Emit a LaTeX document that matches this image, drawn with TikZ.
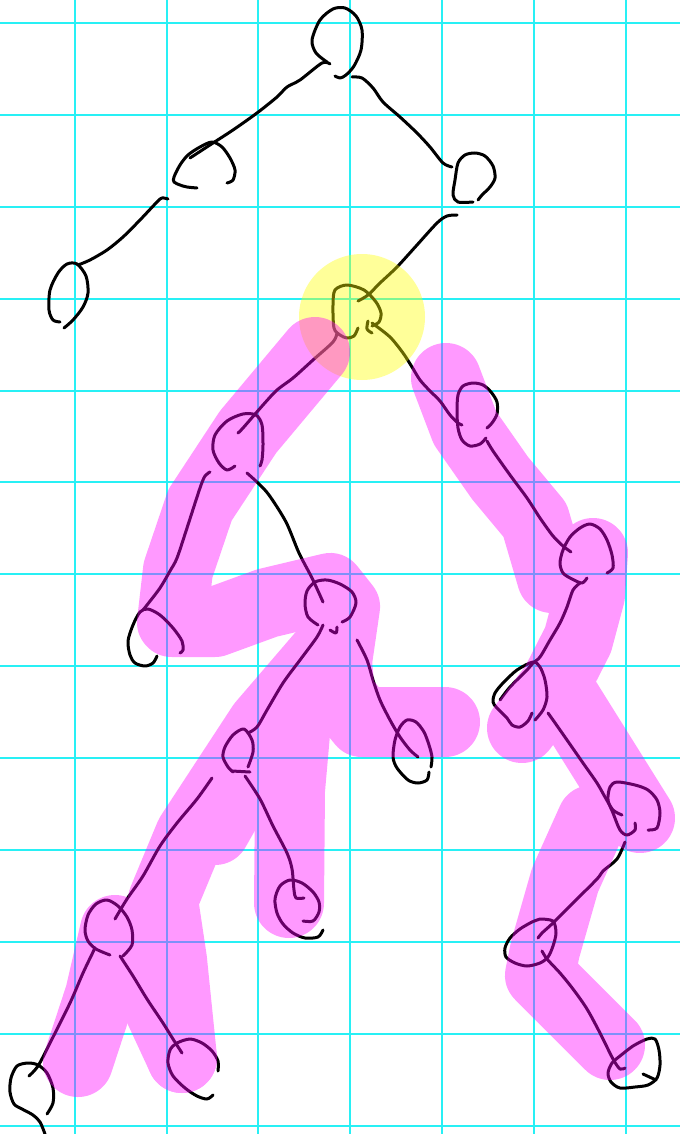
\documentclass[tikz,border=0pt]{standalone}
\definecolor{gridcyan}{RGB}{40,240,245}
\definecolor{hlpink}{RGB}{255,0,255}
\definecolor{hlyellow}{RGB}{255,255,0}
\begin{document}
\begin{tikzpicture}[x=1pt,y=-1pt,
  ink/.style={line width=3pt, line cap=round, line join=round, draw=black},
  hl/.style={line width=70pt, line cap=round, line join=round, draw=hlpink},
  gridline/.style={draw=gridcyan, line width=2pt}]
\useasboundingbox (0,0) rectangle (680,1134);
\fill[white] (0,0) rectangle (680,1134);
% grid
\foreach \i in {0,...,6} \draw[gridline] ({74.6+91.9*\i},0) -- ({74.6+91.9*\i},1134);
\foreach \j in {0,...,12} \draw[gridline] (0,{22.7+91.95*\j}) -- (680,{22.7+91.95*\j});

% ---------- ink (tree) ----------
% root
\draw[ink] plot[smooth] coordinates {(327,62) (316,53) (312,40) (320,20) (333,9) (345,8) (356,16) (362,30) (361,50) (354,66) (346,75) (340,78) (335,76)};
\draw[ink] plot[smooth] coordinates {(330,64) (322,63) (300,80) (287,87) (277,97) (257,113) (233,130) (213,143) (190,158)};
\draw[ink] plot[smooth] coordinates {(227,183) (233,180) (235,170) (230,158) (222,147) (212,142) (200,147) (188,155) (180,165) (174,177) (174,182) (180,185) (187,187) (197,188)};
\draw[ink] plot[smooth] coordinates {(168,199) (162,198) (157,202) (140,220) (123,237) (107,250) (90,260) (78,265)};
\draw[ink] plot[smooth] coordinates {(60,322) (53,320) (49,310) (50,290) (58,273) (67,264) (77,264) (86,276) (88,293) (83,307) (73,320) (64,328)};
\draw[ink] plot[smooth] coordinates {(352,77) (362,78) (373,88) (383,102) (400,117) (417,133) (430,147) (443,163) (452,167)};
\draw[ink] plot[smooth] coordinates {(473,202) (458,202) (453,195) (455,180) (458,163) (465,155) (475,153) (485,156) (493,166) (495,178) (490,187) (482,195) (478,200)};
\draw[ink] plot[smooth] coordinates {(457,215) (447,216) (437,223) (417,245) (397,267) (380,283) (368,295) (358,301)};
% yellow-marked node
\draw[ink] plot[smooth] coordinates {(358,328) (354,336) (347,338) (340,335) (334,328) (333,305) (335,290) (347,285) (364,290) (376,302) (381,313) (379,322) (372,326)};
\draw[ink] plot[smooth] coordinates {(368,321) (367,329) (372,333)};
\draw[ink] plot[smooth] coordinates {(337,333) (333,342) (313,360) (293,378) (277,390) (263,405) (243,428) (238,433)};
\draw[ink] plot[smooth] coordinates {(372,323) (390,337) (403,353) (412,367) (420,380) (430,391) (440,401) (450,415) (458,423) (462,425)};
% left subtree
\draw[ink] plot[smooth] coordinates {(235,466) (227,470) (219,463) (213,450) (215,435) (227,421) (243,414) (256,415) (262,425) (263,445) (262,460) (260,466)};
\draw[ink] plot[smooth] coordinates {(210,472) (205,476) (200,488) (187,528) (177,558) (170,571) (160,588) (147,605) (143,610)};
\draw[ink] plot[smooth] coordinates {(180,653) (183,650) (182,641) (173,628) (160,615) (148,609) (140,612) (133,625) (128,641) (130,655) (135,663) (145,666) (153,663) (157,656)};
\draw[ink] plot[smooth] coordinates {(247,473) (258,483) (269,495) (286,522) (299,553) (312,578) (323,602)};
\draw[ink] plot[smooth] coordinates {(342,622) (350,617) (356,603) (352,592) (340,584) (327,580) (315,582) (307,591) (305,604) (308,617) (318,625)};
\draw[ink] plot[smooth] coordinates {(330,630) (336,633) (337,627)};
\draw[ink] plot[smooth] coordinates {(323,625) (317,637) (300,660) (283,683) (267,710) (257,727) (248,733)};
\draw[ink] plot[smooth] coordinates {(248,767) (253,752) (252,740) (244,729) (233,735) (225,747) (223,757) (228,767) (233,772)};
\draw[ink] (232,771) -- (250,772);
\draw[ink] plot[smooth] coordinates {(212,778) (197,799) (177,823) (160,846) (143,876) (127,899) (115,919)};
\draw[ink] plot[smooth] coordinates {(123,956) (132,945) (132,930) (127,917) (118,906) (107,900) (96,904) (88,915) (85,930) (88,941) (96,949) (110,955)};
\draw[ink] plot[smooth] coordinates {(95,948) (83,973) (70,1003) (50,1043) (38,1066) (29,1076)};
\draw[ink] plot[smooth] coordinates {(47,1114) (53,1103) (53,1088) (47,1073) (38,1065) (28,1063) (17,1066) (11,1078) (10,1092) (14,1104) (22,1109) (33,1115) (40,1122) (45,1134)};
\draw[ink] plot[smooth] coordinates {(120,956) (133,976) (147,999) (163,1023) (173,1039) (182,1053)};
\draw[ink] plot[smooth] coordinates {(213,1095) (207,1099) (197,1096) (185,1088) (173,1076) (168,1063) (170,1050) (177,1043) (190,1039) (202,1043) (212,1051) (218,1061) (218,1071)};
\draw[ink] plot[smooth] coordinates {(245,776) (260,799) (273,826) (287,853) (292,869) (294,890) (296,898) (304,898)};
\draw[ink] plot[smooth] coordinates {(303,921) (313,921) (319,912) (319,902) (313,892) (302,883) (290,880) (280,886) (275,899) (277,913) (283,924) (293,933) (305,938) (318,937) (323,930)};
\draw[ink] plot[smooth] coordinates {(357,640) (367,660) (373,680) (380,700) (390,720) (400,737) (410,750) (418,757)};
\draw[ink] plot[smooth] coordinates {(429,772) (427,780) (418,783) (408,780) (397,768) (393,757) (395,740) (400,727) (407,720) (416,722) (424,732) (429,745) (432,757) (431,767)};
% right subtree
\draw[ink] plot[smooth] coordinates {(487,428) (492,423) (497,414) (497,402) (491,392) (483,385) (473,383) (463,386) (458,395) (457,411) (458,428) (462,440) (470,446) (480,444) (486,438)};
\draw[ink] plot[smooth] coordinates {(487,441) (493,451) (510,475) (527,498) (540,518) (553,536) (563,546) (571,552)};
\draw[ink] plot[smooth] coordinates {(607,573) (613,568) (612,555) (607,540) (600,529) (590,524) (580,528) (570,537) (563,550) (560,563) (563,573) (572,579) (582,583) (587,578)};
\draw[ink] plot[smooth] coordinates {(580,583) (573,590) (567,607) (560,623) (550,640) (540,657) (533,663) (527,670) (510,687) (500,700)};
\draw[ink] plot[smooth] coordinates {(535,720) (543,710) (547,697) (545,680) (540,667) (533,662) (517,670) (503,683) (495,693) (493,702) (497,708) (507,718) (512,725) (520,727) (528,721) (532,713)};
\draw[ink] plot[smooth] coordinates {(548,713) (553,720) (567,740) (583,763) (597,783) (605,797) (613,810) (622,815)};
\draw[ink] plot[smooth] coordinates {(648,830) (657,828) (660,813) (657,800) (648,790) (635,785) (617,782) (610,787) (608,800) (613,813) (620,830) (627,835) (635,830) (635,823)};
\draw[ink] plot[smooth] coordinates {(625,842) (617,859) (603,871) (597,879) (573,903) (553,923) (542,933) (538,938)};
\draw[ink] plot[smooth] coordinates {(540,919) (553,921) (556,933) (553,946) (548,957) (540,963) (527,966) (515,963) (506,957) (505,948) (510,938) (520,929) (532,922) (540,919)};
\draw[ink] plot[smooth] coordinates {(542,951) (547,959) (560,973) (573,989) (587,1009) (600,1033) (613,1059) (620,1069) (625,1068)};
\draw[ink] plot[smooth] coordinates {(620,1056) (633,1046) (647,1039) (655,1039) (659,1050) (660,1065) (657,1078) (648,1085) (635,1087) (620,1088) (611,1082) (608,1073) (612,1063) (620,1056)};
\draw[ink] (643,1074) -- (656,1080);

% ---------- yellow highlight ----------
\fill[hlyellow, opacity=0.4] (362,317) circle (63);

% ---------- pink highlighter ----------
\begin{scope}[transparency group, opacity=0.4]
\draw[hl] (315,352) -- (248,432) -- (200,505) -- (178,570) -- (172,622) -- (215,622) -- (267,603) -- (330,588) -- (345,607) -- (337,662) -- (340,695) -- (362,722) -- (445,722);
\draw[hl] (335,640) -- (262,725) -- (190,835) -- (163,900) -- (172,960) -- (182,1058);
\draw[hl] (275,725) -- (215,830);
\draw[hl] (296,722) -- (290,790) -- (289,903);
\draw[hl] (115,930) -- (100,995) -- (78,1062);
\draw[hl] (125,935) -- (182,1058);
\draw[hl] (446,378) -- (465,428) -- (500,478) -- (535,520) -- (552,578);
\draw[hl] (593,553) -- (590,595) -- (578,640) -- (555,685) -- (522,728);
\draw[hl] (560,690) -- (640,818);
\draw[hl] (592,820) -- (565,880) -- (545,950) -- (540,975) -- (610,1045);
\end{scope}
\end{tikzpicture}
\end{document}
